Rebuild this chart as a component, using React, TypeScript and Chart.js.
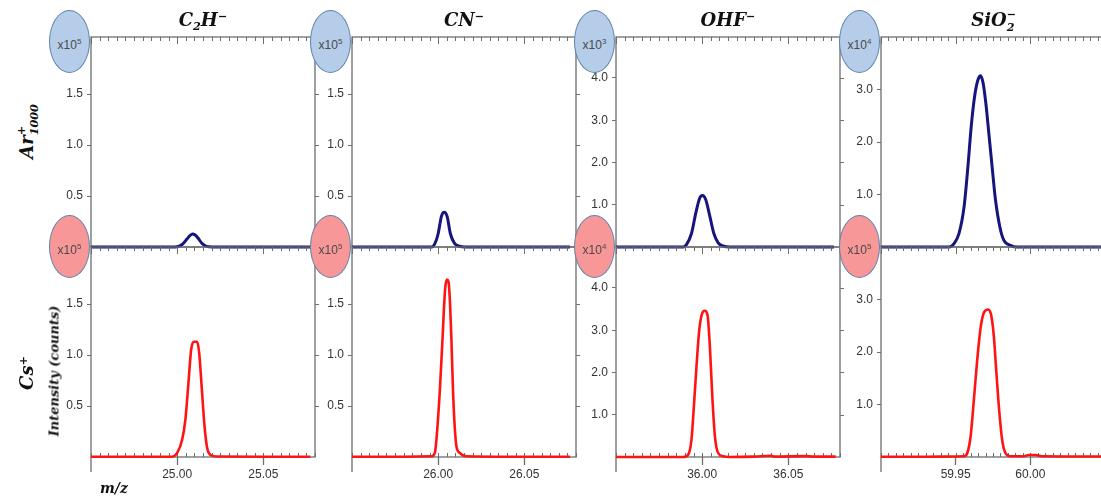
import React, { useEffect, useRef } from "react";
import { Chart, registerables } from "chart.js";
Chart.register(...registerables);

// ---------------- data ----------------
const C2H_X_RANGE = [24.95, 25.08];
const CN_X_RANGE = [25.95, 26.08];
const OHF_X_RANGE = [35.95, 36.08];
const SIO2_X_RANGE = [59.9, 60.05];

const C2H_X_LABELS = [25.0, 25.05];
const CN_X_LABELS = [26.0, 26.05];
const OHF_X_LABELS = [36.0, 36.05];
const SIO2_X_LABELS = [59.95, 60.0];

const Y_TICKS_SMALL = [0.5, 1.0, 1.5];
const Y_TICKS_OHF = [1, 2, 3, 4];
const Y_TICKS_SIO2 = [1, 2, 3];

const Y_MAX_BY_COLUMN = [2.06, 2.06, 4.97, 4.0];
const AR_EXPONENTS = [5, 5, 3, 4];
const CS_EXPONENTS = [5, 5, 4, 5];

// C2H-  (Ar+1000, x10^5)
const C2H_AR_MZ = [24.95, 24.98, 24.997, 25.0, 25.0029, 25.0058, 25.0075, 25.0089, 25.0105, 25.012, 25.0145, 25.0184, 25.03, 25.05, 25.0775];
const C2H_AR_INT = [0, 0, 0, 0.003, 0.024, 0.08, 0.113, 0.128, 0.117, 0.09, 0.034, 0.003, 0, 0, 0];
// C2H-  (Cs+, x10^5)
const C2H_CS_MZ = [24.95, 24.98, 24.9969, 25.0, 25.0029, 25.0048, 25.0067, 25.0081, 25.0097, 25.0116, 25.0128, 25.0141, 25.0159, 25.0174, 25.0194, 25.0232, 25.05, 25.0773];
const C2H_CS_INT = [0.003, 0.003, 0.003, 0.04, 0.17, 0.37, 0.76, 1.05, 1.13, 1.13, 1.02, 0.72, 0.3, 0.09, 0.02, 0.005, 0.003, 0.003];

// CN-  (Ar+1000, x10^5)
const CN_AR_MZ = [25.95, 25.98, 25.9962, 25.9981, 26.0, 26.0019, 26.0035, 26.0052, 26.0071, 26.0096, 26.0125, 26.0154, 26.04, 26.0765];
const CN_AR_INT = [0, 0, 0, 0.033, 0.13, 0.3, 0.34, 0.3, 0.13, 0.033, 0.007, 0, 0, 0];
// CN-  (Cs+, x10^5)
const CN_CS_MZ = [25.95, 25.98, 25.9962, 25.9981, 25.999, 26.001, 26.0025, 26.004, 26.005, 26.006, 26.0067, 26.0077, 26.0086, 26.0096, 26.0106, 26.0125, 26.0163, 26.04, 26.0765];
const CN_CS_INT = [0.003, 0.003, 0.007, 0.04, 0.17, 0.66, 1.15, 1.64, 1.74, 1.72, 1.57, 1.15, 0.66, 0.3, 0.105, 0.04, 0.007, 0.003, 0.003];

// OHF-  (Ar+1000, x10^3)
const OHF_AR_MZ = [35.95, 35.975, 35.989, 35.9909, 35.9938, 35.9963, 35.9986, 36.0002, 36.0021, 36.0045, 36.0068, 36.0093, 36.0122, 36.0161, 36.04, 36.0765];
const OHF_AR_INT = [0, 0, 0, 0.056, 0.32, 0.8, 1.16, 1.22, 1.12, 0.72, 0.32, 0.1, 0.024, 0, 0, 0];
// OHF-  (Cs+, x10^4)
const OHF_CS_MZ = [35.95, 35.975, 35.989, 35.9919, 35.9938, 35.9952, 35.9967, 35.9983, 36.0, 36.0016, 36.0031, 36.0045, 36.006, 36.0074, 36.0093, 36.0122, 36.0161, 36.03, 36.04, 36.042, 36.06, 36.065, 36.0775];
const OHF_CS_INT = [0, 0, 0, 0.055, 0.41, 1.2, 2.14, 3.0, 3.4, 3.46, 3.36, 2.6, 1.35, 0.49, 0.094, 0.016, 0, 0.01, 0.03, 0.01, 0.02, 0.01, 0.01];

// SiO2-  (Ar+1000, x10^4)
const SIO2_AR_MZ = [59.9, 59.93, 59.9456, 59.9489, 59.9522, 59.9556, 59.9582, 59.9604, 59.9627, 59.9649, 59.9667, 59.9684, 59.9702, 59.9722, 59.9744, 59.9767, 59.9796, 59.9822, 59.9867, 59.9911, 60.02, 60.05];
const SIO2_AR_INT = [0, 0, 0, 0.064, 0.255, 0.76, 1.53, 2.29, 2.87, 3.18, 3.26, 3.12, 2.74, 2.17, 1.53, 0.89, 0.38, 0.13, 0.032, 0, 0, 0];
// SiO2-  (Cs+, x10^5)
const SIO2_CS_MZ = [59.9, 59.93, 59.95, 59.9556, 59.9578, 59.96, 59.9622, 59.9644, 59.9667, 59.9689, 59.9718, 59.9738, 59.9756, 59.9773, 59.9791, 59.9811, 59.9833, 59.9867, 59.9956, 59.9989, 60.0033, 60.0089, 60.03, 60.05];
const SIO2_CS_INT = [0.005, 0.005, 0.01, 0.013, 0.076, 0.39, 1.09, 1.84, 2.46, 2.75, 2.81, 2.7, 2.29, 1.59, 0.9, 0.33, 0.076, 0.013, 0.013, 0.038, 0.038, 0.013, 0.01, 0.01];

// ---------------- layout / style ----------------
const PANEL_LEFTS = [91, 352, 616, 881];
const PLOT_W = 224;
const TOP_Y = 37;
const MID_Y = 247;
const BOT_Y = 457;
const Y_AXIS_W = 46;
const PAD_R = 12;
const AXIS_COLOR = "#6e6e6e";
const TEXT_COLOR = "#333333";
const BLUE = "#15157d";
const RED = "#ff1414";
const SANS = "'Liberation Sans', Arial, sans-serif";
const SERIF = "'DejaVu Serif', serif";

type PanelCfg = {
  key: string;
  col: number;
  bottom: boolean;
  xRange: number[];
  xLabels: number[];
  yTicks: number[];
  yMax: number;
  mz: number[];
  intensity: number[];
  color: string;
  width: number;
};

const COLUMNS = [
  { xRange: C2H_X_RANGE, xLabels: C2H_X_LABELS, yTicks: Y_TICKS_SMALL, ar: [C2H_AR_MZ, C2H_AR_INT], cs: [C2H_CS_MZ, C2H_CS_INT] },
  { xRange: CN_X_RANGE, xLabels: CN_X_LABELS, yTicks: Y_TICKS_SMALL, ar: [CN_AR_MZ, CN_AR_INT], cs: [CN_CS_MZ, CN_CS_INT] },
  { xRange: OHF_X_RANGE, xLabels: OHF_X_LABELS, yTicks: Y_TICKS_OHF, ar: [OHF_AR_MZ, OHF_AR_INT], cs: [OHF_CS_MZ, OHF_CS_INT] },
  { xRange: SIO2_X_RANGE, xLabels: SIO2_X_LABELS, yTicks: Y_TICKS_SIO2, ar: [SIO2_AR_MZ, SIO2_AR_INT], cs: [SIO2_CS_MZ, SIO2_CS_INT] },
];

const PANELS: PanelCfg[] = [];
COLUMNS.forEach((c, i) => {
  PANELS.push({ key: "t" + i, col: i, bottom: false, xRange: c.xRange, xLabels: c.xLabels, yTicks: c.yTicks, yMax: Y_MAX_BY_COLUMN[i], mz: c.ar[0], intensity: c.ar[1], color: BLUE, width: 3 });
});
COLUMNS.forEach((c, i) => {
  PANELS.push({ key: "b" + i, col: i, bottom: true, xRange: c.xRange, xLabels: c.xLabels, yTicks: c.yTicks, yMax: Y_MAX_BY_COLUMN[i], mz: c.cs[0], intensity: c.cs[1], color: RED, width: 2.6 });
});

function framePlugin(cfg: PanelCfg) {
  return {
    id: "frame" + cfg.key,
    beforeDatasetsDraw(chart: any) {
      const { ctx, chartArea } = chart;
      const { left, right, top, bottom } = chartArea;
      const xs = chart.scales.x;
      const ys = chart.scales.y;
      ctx.save();
      ctx.strokeStyle = AXIS_COLOR;
      ctx.lineWidth = 1.3;
      ctx.strokeRect(left, top, right - left, bottom - top);
      const step = 0.005;
      const n = Math.round((cfg.xRange[1] - cfg.xRange[0]) / step);
      ctx.lineWidth = 1;
      ctx.beginPath();
      for (let i = 0; i <= n; i++) {
        const v = cfg.xRange[0] + i * step;
        const px = Math.round(xs.getPixelForValue(v)) + 0.5;
        const major = i % 10 === 0;
        ctx.moveTo(px, top);
        ctx.lineTo(px, top + (major ? 7 : 4));
        if (cfg.bottom) {
          ctx.moveTo(px, bottom);
          ctx.lineTo(px, bottom - 4);
        }
      }
      for (const v of cfg.yTicks) {
        const py = Math.round(ys.getPixelForValue(v)) + 0.5;
        ctx.moveTo(right, py);
        ctx.lineTo(right + 4, py);
      }
      ctx.stroke();
      if (cfg.bottom) {
        ctx.lineWidth = 1.3;
        ctx.beginPath();
        ctx.moveTo(left, bottom);
        ctx.lineTo(left, bottom + 15);
        ctx.stroke();
      }
      ctx.restore();
    },
  };
}

function Panel({ cfg }: { cfg: PanelCfg }) {
  const ref = useRef<HTMLCanvasElement>(null);
  const L = PANEL_LEFTS[cfg.col];
  const canvasLeft = L - Y_AXIS_W;
  const canvasTop = cfg.bottom ? MID_Y - 25 : 0;
  const width = Y_AXIS_W + PLOT_W + PAD_R;
  const height = cfg.bottom ? 25 + (BOT_Y - MID_Y) + 30 : MID_Y + 25;

  useEffect(() => {
    const xScale: any = {
      type: "linear",
      min: cfg.xRange[0],
      max: cfg.xRange[1],
      display: cfg.bottom,
      afterBuildTicks: (s: any) => {
        s.ticks = cfg.xLabels.map((v) => ({ value: v }));
      },
      ticks: {
        callback: (v: any) => Number(v).toFixed(2),
        font: { family: SANS, size: 12 },
        color: TEXT_COLOR,
        padding: 2,
        maxRotation: 0,
        autoSkip: false,
      },
      grid: { display: true, drawOnChartArea: false, drawTicks: true, tickLength: 8, tickColor: AXIS_COLOR, tickWidth: 1.3 },
      border: { display: false },
    };
    if (cfg.bottom) {
      xScale.afterFit = (s: any) => {
        s.height = 30;
      };
    }
    const chart = new Chart(ref.current as HTMLCanvasElement, {
      type: "line",
      data: {
        datasets: [
          {
            data: cfg.mz.map((x, i) => ({ x, y: cfg.intensity[i] })),
            borderColor: cfg.color,
            borderWidth: cfg.width,
            pointRadius: 0,
            fill: false,
            cubicInterpolationMode: "monotone",
            clip: 4,
          } as any,
        ],
      },
      options: {
        responsive: false,
        animation: false,
        devicePixelRatio: 1,
        layout: { padding: { left: 0, right: PAD_R, top: cfg.bottom ? 25 : TOP_Y, bottom: cfg.bottom ? 0 : 25 } },
        plugins: { legend: { display: false }, tooltip: { enabled: false } },
        scales: {
          x: xScale,
          y: {
            type: "linear",
            min: 0,
            max: cfg.yMax,
            afterFit: (s: any) => {
              s.width = Y_AXIS_W;
            },
            afterBuildTicks: (s: any) => {
              s.ticks = cfg.yTicks.map((v) => ({ value: v }));
            },
            ticks: {
              callback: (v: any) => Number(v).toFixed(1),
              font: { family: SANS, size: 12 },
              color: TEXT_COLOR,
              padding: 4,
              autoSkip: false,
            },
            grid: { display: true, drawOnChartArea: false, drawTicks: true, tickLength: 4, tickColor: AXIS_COLOR, tickWidth: 1 },
            border: { display: false },
          } as any,
        },
      },
      plugins: [framePlugin(cfg)],
    });
    return () => chart.destroy();
  }, []);

  return (
    <canvas
      ref={ref}
      width={width}
      height={height}
      style={{ position: "absolute", left: canvasLeft, top: canvasTop, width, height }}
    />
  );
}

function Ellipse({ left, centerY, exp, fill }: { left: number; centerY: number; exp: number; fill: string }) {
  return (
    <div
      style={{
        position: "absolute",
        left,
        top: centerY - 31,
        width: 39,
        height: 61,
        borderRadius: "50%",
        background: fill,
        border: "1px solid #5f84ad",
        display: "flex",
        alignItems: "center",
        justifyContent: "center",
        font: `12px ${SANS}`,
        color: "#4a4a4a",
      }}
    >
      <span style={{ position: "relative", top: 3 }}>
        x10<span style={{ fontSize: 8, position: "relative", top: -5 }}>{exp}</span>
      </span>
    </div>
  );
}

const subStyle: React.CSSProperties = { fontSize: "0.62em", position: "relative", top: "0.35em" };
const supStyle: React.CSSProperties = { fontSize: "0.62em", position: "relative", top: "-0.55em" };

// stacked superscript / subscript (base = font size of the surrounding text in px)
function Stack({ sup, sub, base, width }: { sup: string; sub: string; base: number; width: number }) {
  const s = base * 0.62;
  return (
    <span style={{ display: "inline-block", position: "relative", width, height: 0 }}>
      <span style={{ position: "absolute", left: 0, top: -0.95 * base, fontSize: s, lineHeight: 1 }}>{sup}</span>
      <span style={{ position: "absolute", left: 0, top: -0.22 * base, fontSize: s, lineHeight: 1 }}>{sub}</span>
    </span>
  );
}

const TITLE_SIZE = 18;
const TITLES = [
  <>C<span style={subStyle}>2</span>H<span style={supStyle}>−</span></>,
  <>CN<span style={supStyle}>−</span></>,
  <>OHF<span style={supStyle}>−</span></>,
  <>SiO<Stack sup="−" sub="2" base={TITLE_SIZE} width={8} /></>,
];

export default function App() {
  return (
    <div
      style={{
        position: "fixed",
        left: 0,
        top: 0,
        width: 1101,
        height: 502,
        overflow: "hidden",
        background: "#ffffff",
      }}
    >
      {PANELS.map((p) => (
        <Panel key={p.key} cfg={p} />
      ))}
      {PANEL_LEFTS.map((L, i) => (
        <Ellipse key={"eb" + i} left={L - 42} centerY={41} exp={AR_EXPONENTS[i]} fill="#b5cde9" />
      ))}
      {PANEL_LEFTS.map((L, i) => (
        <Ellipse key={"er" + i} left={L - 42} centerY={246} exp={CS_EXPONENTS[i]} fill="#f79797" />
      ))}
      {PANEL_LEFTS.map((L, i) => (
        <div
          key={"title" + i}
          style={{
            position: "absolute",
            left: L + PLOT_W / 2,
            top: 20,
            transform: "translate(-50%, -50%)",
            font: `bold italic ${TITLE_SIZE}px ${SERIF}`,
            color: "#111",
            whiteSpace: "nowrap",
            lineHeight: 1,
          }}
        >
          {TITLES[i]}
        </div>
      ))}
      <div
        style={{
          position: "absolute",
          left: 27,
          top: 133,
          transform: "translate(-50%, -50%) rotate(-90deg)",
          font: `bold italic 18px ${SERIF}`,
          color: "#111",
          whiteSpace: "nowrap",
          lineHeight: 1,
        }}
      >
        Ar<Stack sup="+" sub="1000" base={18} width={28} />
      </div>
      <div
        style={{
          position: "absolute",
          left: 27,
          top: 373,
          transform: "translate(-50%, -50%) rotate(-90deg)",
          font: `bold italic 18px ${SERIF}`,
          color: "#111",
          whiteSpace: "nowrap",
          lineHeight: 1,
        }}
      >
        Cs<span style={supStyle}>+</span>
      </div>
      <div
        style={{
          position: "absolute",
          left: 54,
          top: 371,
          transform: "translate(-50%, -50%) rotate(-90deg)",
          font: `bold italic 13px ${SERIF}`,
          color: "#111",
          whiteSpace: "nowrap",
          lineHeight: 1,
        }}
      >
        Intensity (counts)
      </div>
      <div
        style={{
          position: "absolute",
          left: 100,
          top: 481,
          font: `bold italic 14px ${SERIF}`,
          color: "#111",
          whiteSpace: "nowrap",
          lineHeight: 1,
        }}
      >
        m/z
      </div>
    </div>
  );
}
